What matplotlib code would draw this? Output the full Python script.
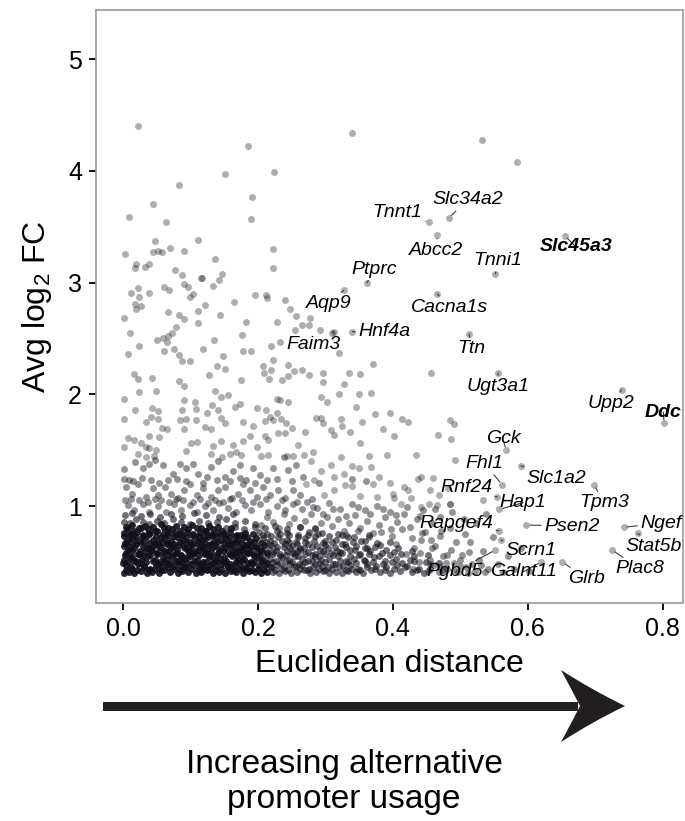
import matplotlib
matplotlib.use("Agg")
import matplotlib.pyplot as plt
from matplotlib.path import Path
from matplotlib.patches import PathPatch, Rectangle

plt.rcParams['font.family'] = ['Liberation Sans', 'DejaVu Sans']
plt.rcParams['mathtext.fontset'] = 'custom'
plt.rcParams['mathtext.rm'] = 'Liberation Sans'

# ---------------- data (Euclidean distance, Avg log2 FC) ----------------
sparse_pts = [
    (0.022,4.40),(0.185,4.22),(0.151,3.97),(0.224,3.99),(0.083,3.87),(0.191,3.77),(0.045,3.70),(0.009,3.59),
    (0.064,3.54),(0.189,3.57),(0.048,3.37),(0.111,3.38),(0.003,3.26),(0.044,3.27),(0.052,3.28),(0.058,3.27),
    (0.070,3.31),(0.090,3.28),(0.223,3.30),(0.136,3.21),(0.019,3.17),(0.018,3.13),(0.032,3.14),(0.038,3.17),
    (0.222,3.13),(0.077,3.11),(0.087,3.07),(0.116,3.04),(0.117,3.04),(0.147,3.08),(0.142,3.02),(0.133,2.97),
    (0.090,2.99),(0.096,2.96),(0.061,2.96),(0.022,2.95),
    (0.340,4.34),(0.532,4.28),(0.584,4.08),
    (0.012,2.91),(0.023,2.87),(0.038,2.91),(0.068,2.93),(0.104,2.90),(0.100,2.87),(0.018,2.81),(0.027,2.79),
    (0.020,2.76),(0.002,2.68),(0.067,2.74),(0.083,2.71),(0.091,2.67),(0.111,2.75),(0.122,2.80),(0.144,2.71),
    (0.111,2.64),(0.165,2.83),(0.196,2.89),(0.212,2.89),(0.213,2.86),(0.240,2.84),(0.247,2.76),(0.256,2.70),
    (0.277,2.68),(0.011,2.55),(0.182,2.65),(0.228,2.65),(0.255,2.58),(0.265,2.62),(0.275,2.62),(0.051,2.49),
    (0.059,2.50),(0.066,2.52),(0.073,2.55),(0.078,2.60),(0.065,2.47),(0.135,2.49),(0.177,2.53),(0.008,2.36),
    (0.023,2.43),(0.061,2.39),(0.075,2.41),(0.083,2.35),(0.088,2.30),(0.100,2.30),(0.118,2.41),(0.148,2.34),
    (0.178,2.39),(0.189,2.39),(0.219,2.43),(0.233,2.47),(0.017,2.18),(0.022,2.14),(0.043,2.15),(0.083,2.12),
    (0.091,2.07),(0.127,2.17),(0.140,2.25),(0.151,2.23),(0.175,2.13),(0.208,2.25),(0.223,2.31),(0.220,2.22),
    (0.209,2.19),(0.217,2.14),(0.236,2.13),(0.244,2.16),(0.245,2.26),(0.253,2.21),(0.266,2.22),(0.275,2.17),
    (0.024,2.02),(0.049,2.03),(0.001,1.96),(0.018,1.86),(0.043,1.88),(0.052,1.85),(0.090,1.95),(0.106,1.93),
    (0.108,1.87),(0.088,1.86),(0.137,2.03),(0.146,1.98),(0.155,1.99),(0.132,1.90),(0.141,1.86),(0.166,1.89),
    (0.173,1.91),(0.199,1.88),(0.212,1.86),(0.218,1.80),(0.229,1.96),(0.232,1.95),(0.244,1.93),(0.228,1.83),
    (0.002,1.78),(0.034,1.75),(0.042,1.80),(0.052,1.78),(0.058,1.70),(0.065,1.69),(0.085,1.77),(0.094,1.78),
    (0.108,1.77),(0.090,1.69),(0.125,1.83),(0.146,1.79),(0.151,1.74),(0.121,1.71),(0.130,1.69),(0.178,1.75),
    (0.193,1.72),(0.210,1.76),(0.222,1.77),(0.234,1.78),(0.241,1.74),(0.250,1.70),(0.270,1.66),(0.007,1.61),
    (0.017,1.59),(0.039,1.63),(0.054,1.62),(0.002,1.53),(0.027,1.56),(0.034,1.53),(0.039,1.52),(0.049,1.50),
    (0.101,1.56),(0.109,1.57),(0.133,1.54),(0.146,1.58),(0.163,1.55),(0.178,1.58),(0.188,1.63),(0.199,1.53),
    (0.210,1.63),(0.215,1.59),(0.230,1.65),(0.240,1.65),(0.260,1.55),(0.281,1.48),(0.022,1.47),(0.034,1.44),
    (0.046,1.45),(0.094,1.49),(0.131,1.47),(0.147,1.44),(0.158,1.47),(0.168,1.48),(0.175,1.46),(0.205,1.45),
    (0.215,1.46),(0.243,1.45),(0.252,1.45),
    (0.292,2.58),(0.310,2.55),(0.320,2.37),(0.297,2.19),(0.335,2.19),(0.352,2.18),(0.371,2.27),(0.457,2.19),
    (0.297,2.11),(0.327,2.09),(0.294,1.98),(0.320,2.00),(0.350,2.00),(0.367,2.01),(0.303,1.93),(0.345,1.89),
    (0.373,1.82),(0.395,1.83),(0.414,1.78),(0.422,1.75),(0.286,1.79),(0.293,1.79),(0.297,1.74),(0.323,1.78),
    (0.325,1.72),(0.337,1.66),(0.308,1.68),(0.313,1.64),(0.354,1.75),(0.386,1.69),(0.402,1.63),(0.467,1.64),
    (0.485,1.77),(0.490,1.73),(0.352,1.56),(0.492,1.41),(0.434,1.46),(0.392,1.46),(0.365,1.45),(0.340,1.36),
    (0.323,1.44),(0.278,1.40),(0.268,1.46),(0.308,1.37),(0.313,1.26),(0.293,1.31),(0.328,1.29),(0.350,1.34),
    (0.367,1.35),(0.380,1.26),(0.395,1.21),(0.417,1.17),(0.423,1.14),(0.437,1.24),(0.442,1.26),(0.459,1.25),
    (0.271,1.20),(0.283,1.23),(0.298,1.10),(0.313,1.14),(0.329,1.19),(0.340,1.18),(0.352,1.09),(0.370,1.20),
    (0.377,1.08),(0.400,1.11),(0.402,1.07),(0.412,1.02),(0.427,1.07),(0.442,0.99),(0.454,1.02),(0.466,1.01),
    (0.484,1.02),(0.486,1.60),(0.455,1.14),(0.469,1.10),(0.481,1.16),(0.485,1.02),(0.533,1.05),
]

mid_pts = [
    (0.002,1.33),(0.009,1.23),(0.018,1.39),(0.029,1.34),(0.039,1.38),(0.047,1.41),(0.059,1.37),(0.066,1.23),
    (0.074,1.29),(0.084,1.38),(0.094,1.34),(0.104,1.38),(0.111,1.29),(0.124,1.26),(0.131,1.35),(0.141,1.40),
    (0.151,1.26),(0.163,1.31),(0.173,1.37),(0.183,1.23),(0.193,1.34),(0.203,1.28),(0.213,1.23),(0.223,1.34),
    (0.238,1.44),(0.245,1.32),(0.257,1.37),(0.267,1.26),
    (0.004,1.17),(0.014,1.11),(0.022,1.20),(0.034,1.08),(0.044,1.16),(0.052,1.10),(0.062,1.17),(0.071,1.11),
    (0.081,1.07),(0.091,1.14),(0.099,1.20),(0.109,1.10),(0.119,1.16),(0.131,1.08),(0.141,1.14),(0.151,1.17),
    (0.161,1.07),(0.171,1.11),(0.178,1.20),(0.188,1.14),(0.198,1.08),(0.208,1.17),(0.218,1.10),(0.230,1.14),
    (0.240,1.07),(0.252,1.14),(0.262,1.10),
    (0.007,1.01),(0.017,0.96),(0.029,1.02),(0.039,0.95),(0.052,1.00),(0.064,0.95),(0.076,1.02),(0.086,0.96),
    (0.099,1.01),(0.109,0.95),(0.121,1.00),(0.133,0.96),(0.143,1.03),(0.156,0.98),(0.168,0.95),(0.181,1.01),
    (0.190,0.96),(0.203,1.02),(0.215,0.95),(0.228,1.00),(0.240,0.96),(0.252,1.02),(0.265,0.97),
    (0.205,0.83),(0.214,0.90),(0.223,0.86),(0.231,0.80),(0.238,0.93),(0.246,0.84),(0.254,0.89),(0.262,0.81),
    (0.270,0.87),(0.279,0.93),(0.285,0.79),(0.293,0.85),(0.302,0.90),(0.310,0.82),(0.318,0.88),(0.327,0.78),
    (0.335,0.85),(0.344,0.92),(0.352,0.80),(0.361,0.87),(0.370,0.76),(0.379,0.83),(0.388,0.90),(0.397,0.79),
    (0.406,0.86),(0.416,0.93),(0.425,0.81),(0.436,0.88),(0.447,0.77),(0.458,0.85),
    (0.272,1.04),(0.287,0.98),(0.305,1.03),(0.322,0.97),(0.340,1.02),(0.358,0.96),(0.377,1.00),(0.395,0.95),
    (0.452,0.42),(0.461,0.47),(0.468,0.41),(0.474,0.55),(0.480,0.44),(0.486,0.61),(0.491,0.49),(0.497,0.41),
    (0.503,0.56),(0.509,0.45),(0.515,0.68),(0.521,0.42),(0.527,0.52),(0.534,0.60),(0.541,0.44),(0.548,0.72),
    (0.556,0.48),(0.563,0.41),(0.571,0.55),(0.580,0.44),(0.590,0.62),(0.602,0.42),(0.455,0.52),(0.463,0.64),
    (0.470,0.73),(0.478,0.49),(0.484,0.80),(0.493,0.68),(0.500,0.46),(0.507,0.75),(0.513,0.59),(0.523,0.85),
    (0.530,0.47),(0.538,0.93),(0.470,0.90),(0.488,0.95),(0.445,0.96),(0.505,0.88),(0.432,0.62),(0.441,0.70),
    (0.438,0.50),(0.430,0.44),
    (0.003,1.05),(0.012,1.06),(0.024,1.05),(0.037,1.04),(0.047,1.06),(0.057,1.05),(0.068,1.04),(0.078,1.06),
    (0.089,1.05),(0.104,1.04),(0.114,1.06),(0.126,1.03),(0.137,1.05),(0.148,1.04),(0.158,1.06),(0.176,1.05),
    (0.193,1.04),(0.212,1.06),(0.235,1.05),(0.258,1.04),(0.280,1.06),
    (0.002,1.24),(0.015,1.22),(0.028,1.25),(0.041,1.23),(0.053,1.21),(0.080,1.24),(0.093,1.22),(0.118,1.21),
    (0.140,1.23),(0.158,1.22),(0.173,1.25),(0.196,1.21),(0.228,1.24),(0.250,1.22),(0.290,1.21),(0.340,1.24),
    (0.360,1.22),
    (0.281,0.99),(0.297,0.93),(0.312,0.97),(0.331,0.91),(0.349,0.99),(0.366,0.93),(0.385,0.97),(0.404,0.92),
    (0.421,0.99),(0.440,0.91),(0.462,0.97),
    (0.330,0.74),(0.348,0.78),(0.364,0.72),(0.382,0.77),(0.399,0.73),(0.414,0.79),(0.428,0.71),(0.443,0.76),
    (0.457,0.70),(0.472,0.78),(0.405,0.66),(0.420,0.57),(0.440,0.58),(0.458,0.62),(0.480,0.56),(0.499,0.52),
    (0.518,0.48),(0.536,0.41),(0.470,0.45),(0.490,0.43),(0.512,0.40),(0.455,0.48),
]

core_mid_pts = [
    (0.222,0.41),(0.231,0.40),(0.240,0.42),(0.249,0.40),(0.258,0.41),(0.268,0.43),(0.277,0.40),(0.286,0.41),
    (0.296,0.42),(0.305,0.40),(0.315,0.41),(0.324,0.40),(0.334,0.42),(0.345,0.41),(0.356,0.40),(0.368,0.43),
    (0.381,0.41),(0.395,0.40),(0.410,0.42),(0.428,0.41),(0.446,0.40),
    (0.228,0.47),(0.238,0.45),(0.247,0.48),(0.257,0.46),(0.266,0.47),(0.276,0.44),(0.285,0.48),(0.295,0.46),
    (0.304,0.45),(0.314,0.48),(0.326,0.46),(0.337,0.47),(0.349,0.44),(0.362,0.48),(0.375,0.46),(0.390,0.45),
    (0.406,0.47),(0.421,0.46),(0.438,0.44),
    (0.218,0.53),(0.227,0.51),(0.236,0.54),(0.246,0.52),(0.255,0.55),(0.265,0.53),(0.274,0.51),(0.284,0.54),
    (0.294,0.52),(0.306,0.53),(0.318,0.55),(0.330,0.51),(0.343,0.53),(0.357,0.52),(0.372,0.54),(0.388,0.51),
    (0.404,0.53),(0.425,0.52),
    (0.223,0.59),(0.233,0.57),(0.243,0.60),(0.253,0.58),(0.263,0.61),(0.274,0.59),(0.285,0.57),(0.297,0.60),
    (0.309,0.58),(0.322,0.59),(0.336,0.61),(0.351,0.57),(0.366,0.60),(0.384,0.58),(0.402,0.59),
    (0.219,0.65),(0.229,0.63),(0.240,0.66),(0.251,0.64),(0.262,0.62),(0.274,0.66),(0.287,0.64),(0.300,0.65),
    (0.314,0.63),(0.329,0.66),(0.345,0.64),(0.362,0.62),(0.381,0.65),
    (0.207,0.71),(0.218,0.69),(0.230,0.72),(0.243,0.70),(0.256,0.68),(0.270,0.71),(0.284,0.73),(0.299,0.69),
    (0.316,0.70),(0.334,0.72),(0.353,0.69),
    (0.202,0.77),(0.214,0.75),(0.228,0.78),(0.243,0.76),(0.259,0.74),(0.276,0.77),(0.295,0.76),(0.318,0.75),
    (0.001,0.86),(0.010,0.85),(0.019,0.88),(0.029,0.86),(0.038,0.84),(0.050,0.87),(0.061,0.85),(0.074,0.88),
    (0.086,0.86),(0.099,0.84),(0.112,0.87),(0.126,0.85),(0.139,0.86),(0.152,0.88),(0.166,0.85),(0.181,0.87),
    (0.196,0.84),
    (0.003,0.92),(0.014,0.94),(0.026,0.91),(0.040,0.93),(0.055,0.90),(0.071,0.93),(0.088,0.91),(0.105,0.94),
    (0.123,0.92),(0.142,0.90),(0.163,0.93),
    (0.226,0.43),(0.236,0.44),(0.245,0.43),(0.254,0.45),(0.263,0.44),(0.273,0.43),(0.282,0.45),(0.291,0.44),
    (0.300,0.43),(0.310,0.44),(0.320,0.45),(0.330,0.43),(0.340,0.44),(0.351,0.43),(0.362,0.45),(0.374,0.44),
    (0.388,0.43),(0.402,0.44),(0.418,0.45),(0.436,0.43),(0.455,0.44),(0.475,0.43),
    (0.222,0.50),(0.232,0.49),(0.242,0.51),(0.251,0.50),(0.261,0.48),(0.270,0.50),(0.280,0.51),(0.290,0.49),
    (0.300,0.50),(0.311,0.48),(0.322,0.51),(0.333,0.50),(0.345,0.49),(0.358,0.51),(0.371,0.50),(0.385,0.48),
    (0.399,0.50),(0.414,0.49),(0.431,0.51),(0.449,0.50),(0.468,0.49),
    (0.213,0.56),(0.223,0.57),(0.232,0.55),(0.242,0.56),(0.251,0.58),(0.260,0.55),(0.270,0.57),(0.280,0.56),
    (0.290,0.55),(0.300,0.57),(0.312,0.56),(0.324,0.58),(0.337,0.55),(0.350,0.56),(0.364,0.57),(0.379,0.55),
    (0.395,0.56),(0.412,0.57),(0.432,0.55),(0.452,0.56),
    (0.216,0.62),(0.227,0.61),(0.238,0.63),(0.248,0.62),(0.258,0.60),(0.269,0.62),(0.280,0.63),(0.292,0.61),
    (0.304,0.62),(0.317,0.60),(0.330,0.63),(0.344,0.61),(0.358,0.62),(0.373,0.63),(0.390,0.61),(0.408,0.62),
    (0.428,0.60),
    (0.212,0.68),(0.224,0.67),(0.235,0.69),(0.246,0.68),(0.258,0.66),(0.270,0.68),(0.283,0.69),(0.296,0.67),
    (0.310,0.68),(0.325,0.66),(0.341,0.68),(0.358,0.69),(0.376,0.67),(0.396,0.68),
    (0.208,0.74),(0.220,0.73),(0.233,0.75),(0.246,0.74),(0.260,0.72),(0.274,0.74),(0.289,0.75),(0.306,0.73),
    (0.324,0.74),(0.343,0.72),(0.365,0.74),
    (0.152,0.80),(0.166,0.81),(0.180,0.79),(0.195,0.81),(0.210,0.80),(0.226,0.82),(0.243,0.79),(0.262,0.81),
    (0.284,0.80),
]

core_dark_pts = [
    (0.001,0.40),(0.009,0.41),(0.016,0.40),(0.027,0.42),(0.035,0.40),(0.043,0.41),(0.054,0.40),(0.061,0.43),
    (0.070,0.41),(0.081,0.40),(0.088,0.42),(0.097,0.41),(0.108,0.40),(0.115,0.41),(0.124,0.43),(0.133,0.40),
    (0.142,0.41),(0.151,0.40),(0.160,0.42),(0.168,0.41),(0.178,0.40),(0.187,0.42),(0.196,0.41),(0.205,0.40),
    (0.214,0.41),
    (0.004,0.47),(0.012,0.45),(0.022,0.48),(0.031,0.46),(0.040,0.44),(0.049,0.47),(0.058,0.45),(0.066,0.48),
    (0.076,0.46),(0.084,0.47),(0.093,0.45),(0.103,0.48),(0.111,0.46),(0.120,0.44),(0.129,0.47),(0.138,0.46),
    (0.147,0.48),(0.156,0.45),(0.164,0.47),(0.173,0.46),(0.183,0.44),(0.191,0.48),(0.201,0.46),(0.210,0.47),
    (0.220,0.45),
    (0.002,0.52),(0.010,0.54),(0.019,0.51),(0.028,0.53),(0.037,0.55),(0.047,0.52),(0.055,0.50),(0.064,0.53),
    (0.073,0.54),(0.082,0.51),(0.091,0.53),(0.100,0.55),(0.109,0.52),(0.118,0.50),(0.127,0.54),(0.136,0.52),
    (0.144,0.53),(0.153,0.51),(0.162,0.55),(0.171,0.52),(0.180,0.53),(0.189,0.50),(0.198,0.54),(0.207,0.52),
    (0.005,0.58),(0.014,0.60),(0.024,0.57),(0.032,0.59),(0.041,0.61),(0.050,0.57),(0.060,0.59),(0.068,0.60),
    (0.078,0.58),(0.086,0.56),(0.096,0.60),(0.105,0.58),(0.113,0.61),(0.122,0.57),(0.131,0.59),(0.141,0.58),
    (0.149,0.60),(0.158,0.57),(0.167,0.59),(0.176,0.61),(0.185,0.58),(0.194,0.57),(0.203,0.60),(0.213,0.58),
    (0.001,0.64),(0.011,0.63),(0.020,0.66),(0.029,0.64),(0.038,0.62),(0.046,0.65),(0.057,0.63),(0.065,0.66),
    (0.074,0.64),(0.083,0.65),(0.092,0.62),(0.101,0.64),(0.110,0.66),(0.119,0.63),(0.128,0.65),(0.137,0.64),
    (0.146,0.62),(0.155,0.66),(0.163,0.64),(0.172,0.63),(0.182,0.65),(0.190,0.64),(0.199,0.62),(0.209,0.65),
    (0.006,0.70),(0.015,0.71),(0.025,0.69),(0.034,0.72),(0.044,0.70),(0.052,0.68),(0.062,0.71),(0.071,0.69),
    (0.080,0.72),(0.089,0.70),(0.099,0.68),(0.107,0.71),(0.117,0.70),(0.126,0.72),(0.135,0.69),(0.145,0.70),
    (0.152,0.71),(0.161,0.68),(0.170,0.70),(0.179,0.72),(0.188,0.69),(0.197,0.71),
    (0.002,0.76),(0.012,0.75),(0.021,0.77),(0.030,0.74),(0.039,0.76),(0.048,0.78),(0.059,0.75),(0.067,0.77),
    (0.077,0.76),(0.087,0.74),(0.095,0.77),(0.104,0.75),(0.114,0.76),(0.123,0.78),(0.132,0.74),(0.140,0.76),
    (0.150,0.75),(0.159,0.77),(0.169,0.74),(0.181,0.76),(0.193,0.75),
    (0.004,0.81),(0.013,0.83),(0.023,0.80),(0.033,0.82),(0.045,0.81),(0.056,0.84),(0.066,0.80),(0.079,0.82),
    (0.091,0.81),(0.103,0.83),(0.116,0.80),(0.128,0.82),(0.141,0.81),
    (0.005,0.43),(0.013,0.44),(0.021,0.43),(0.031,0.45),(0.039,0.43),(0.048,0.44),(0.057,0.43),(0.066,0.45),
    (0.075,0.44),(0.085,0.43),(0.092,0.45),(0.102,0.44),(0.112,0.43),(0.120,0.45),(0.128,0.44),(0.137,0.43),
    (0.146,0.44),(0.155,0.45),(0.164,0.43),(0.173,0.44),(0.182,0.45),(0.191,0.43),(0.200,0.44),(0.209,0.43),
    (0.000,0.49),(0.008,0.50),(0.017,0.51),(0.025,0.49),(0.034,0.50),(0.044,0.51),(0.052,0.48),(0.061,0.50),
    (0.069,0.49),(0.079,0.51),(0.087,0.50),(0.096,0.49),(0.105,0.51),(0.114,0.48),(0.123,0.50),(0.132,0.49),
    (0.140,0.51),(0.150,0.50),(0.158,0.48),(0.167,0.50),(0.176,0.51),(0.186,0.49),(0.194,0.50),(0.204,0.51),
    (0.213,0.49),
    (0.003,0.56),(0.013,0.54),(0.022,0.57),(0.030,0.55),(0.040,0.56),(0.050,0.58),(0.059,0.54),(0.068,0.56),
    (0.077,0.57),(0.086,0.55),(0.095,0.54),(0.104,0.57),(0.113,0.56),(0.122,0.58),(0.131,0.55),(0.140,0.56),
    (0.149,0.54),(0.158,0.57),(0.167,0.55),(0.176,0.56),(0.185,0.58),(0.194,0.55),(0.203,0.56),
    (0.007,0.61),(0.016,0.62),(0.025,0.60),(0.035,0.62),(0.043,0.61),(0.053,0.63),(0.062,0.60),(0.071,0.62),
    (0.080,0.61),(0.090,0.63),(0.098,0.61),(0.107,0.60),(0.116,0.62),(0.125,0.61),(0.134,0.63),(0.143,0.60),
    (0.152,0.62),(0.161,0.61),(0.170,0.60),(0.179,0.62),(0.188,0.61),(0.197,0.63),(0.206,0.61),
    (0.003,0.67),(0.011,0.68),(0.020,0.66),(0.030,0.68),(0.039,0.67),(0.048,0.66),(0.058,0.68),(0.066,0.67),
    (0.076,0.66),(0.085,0.68),(0.094,0.67),(0.103,0.66),(0.112,0.68),(0.121,0.67),(0.131,0.66),(0.140,0.68),
    (0.149,0.67),(0.158,0.66),(0.167,0.68),(0.176,0.67),(0.185,0.66),(0.194,0.68),(0.204,0.67),
    (0.001,0.73),(0.010,0.74),(0.020,0.72),(0.029,0.73),(0.039,0.75),(0.049,0.73),(0.057,0.72),(0.067,0.74),
    (0.076,0.73),(0.085,0.75),(0.094,0.72),(0.103,0.74),(0.112,0.73),(0.121,0.72),(0.130,0.74),(0.140,0.73),
    (0.148,0.75),(0.157,0.72),(0.166,0.73),(0.175,0.74),(0.184,0.72),
    (0.008,0.79),(0.017,0.78),(0.027,0.80),(0.037,0.79),(0.050,0.78),(0.061,0.80),(0.072,0.79),(0.084,0.78),
    (0.097,0.79),(0.109,0.80),(0.121,0.78),(0.134,0.79),(0.147,0.78),(0.160,0.80),
]

# labelled genes: name, point (x, y), label position (x, y)
label_genes = ['Tnnt1','Slc34a2','Abcc2','Tnni1','Slc45a3','Ptprc','Aqp9','Cacna1s','Faim3','Hnf4a',
               'Ttn','Ugt3a1','Upp2','Ddc','Gck','Fhl1','Slc1a2','Rnf24','Hap1','Tpm3','Rapgef4',
               'Psen2','Ngef','Stat5b','Scrn1','Pgbd5','Galnt11','Glrb','Plac8']
label_px = [0.453,0.483,0.466,0.552,0.655,0.362,0.327,0.466,0.313,0.340,
            0.513,0.556,0.739,0.802,0.568,0.562,0.590,0.555,0.558,0.698,0.557,
            0.598,0.742,0.763,0.560,0.552,0.620,0.651,0.725]
label_py = [3.54,3.58,3.425,3.076,3.42,3.00,2.93,2.897,2.56,2.56,
            2.54,2.19,2.04,1.74,1.50,1.19,1.36,1.08,0.97,1.19,0.78,
            0.83,0.81,0.755,0.696,0.606,0.50,0.50,0.606]
label_tx = [0.407,0.511,0.464,0.556,0.671,0.372,0.305,0.484,0.283,0.387,
            0.516,0.556,0.723,0.801,0.563,0.536,0.642,0.509,0.593,0.713,0.494,
            0.665,0.797,0.786,0.605,0.491,0.593,0.687,0.766]
label_ty = [3.63,3.74,3.29,3.195,3.32,3.12,2.81,2.78,2.45,2.56,
            2.41,2.07,1.92,1.84,1.60,1.38,1.25,1.17,1.03,1.03,0.845,
            0.82,0.845,0.64,0.60,0.41,0.41,0.35,0.44]
bold_genes = ['Slc45a3', 'Ddc']

x_ticks = [0.0, 0.2, 0.4, 0.6, 0.8]
y_ticks = [1, 2, 3, 4, 5]

# ---------------- figure ----------------
W, H = 685, 821
fig = plt.figure(figsize=(W / 100, H / 100), dpi=100)
ax = fig.add_axes([96 / W, 1 - 603 / H, (683 - 96) / W, (603 - 10) / H])

pt_color = '#120f1a'
pt_size = 25
def scat(pts, alpha):
    xs = [p[0] for p in pts]
    ys = [p[1] for p in pts]
    ax.scatter(xs, ys, s=pt_size, c=pt_color, alpha=alpha, linewidths=0, zorder=2)

scat(core_dark_pts, 0.9)
scat(core_mid_pts, 0.6)
scat(mid_pts, 0.45)
scat(sparse_pts, 0.34)
ax.scatter(label_px, label_py, s=pt_size, c=pt_color, alpha=0.34, linewidths=0, zorder=2)

for g, px, py, tx, ty in zip(label_genes, label_px, label_py, label_tx, label_ty):
    ax.annotate(g, xy=(px, py), xytext=(tx, ty), textcoords='data',
                ha='center', va='center', fontsize=14, style='italic',
                fontweight='bold' if g in bold_genes else 'normal', color='black',
                arrowprops=dict(arrowstyle='-', color='#3c3c3c', lw=0.8,
                                shrinkA=0, shrinkB=2.5), zorder=4)

ax.set_xlim(-0.040, 0.830)
ax.set_ylim(0.132, 5.44)
ax.set_xticks(x_ticks)
ax.set_xticklabels([f'{t:.1f}' for t in x_ticks])
ax.set_yticks(y_ticks)
ax.set_yticklabels([str(t) for t in y_ticks])
ax.tick_params(axis='both', direction='out', length=5, width=1.3, color='black',
               labelsize=18, pad=5, labelcolor='black')
for sp in ax.spines.values():
    sp.set_color('#9a9a9a')
    sp.set_linewidth(1.2)

ax.set_xlabel('Euclidean distance', fontsize=23, labelpad=6)
ax.set_ylabel(r'Avg log$_{\mathregular{2}}$ FC', fontsize=23, labelpad=10)

# ---------------- arrow and caption below ----------------
def fxy(x, y):
    return (x / W, 1 - y / H)

shaft = Rectangle(fxy(103, 710.5), (578 - 103) / W, 9 / H, transform=fig.transFigure,
                  facecolor='#231f20', edgecolor='none')
fig.patches.append(shaft)
verts = [fxy(625, 706), fxy(592, 690), fxy(561, 670), fxy(574, 694), fxy(580, 706),
         fxy(574, 718), fxy(561, 742), fxy(592, 722), fxy(625, 706), fxy(625, 706)]
codes = [Path.MOVETO, Path.CURVE3, Path.CURVE3, Path.CURVE3, Path.CURVE3,
         Path.CURVE3, Path.CURVE3, Path.CURVE3, Path.CURVE3, Path.CLOSEPOLY]
head = PathPatch(Path(verts, codes), transform=fig.transFigure, facecolor='#231f20', edgecolor='none')
fig.patches.append(head)

fig.text(344 / W, 1 - 782 / H, 'Increasing alternative\npromoter usage', ha='center', va='center',
         fontsize=24, linespacing=1.15)

fig.savefig('out.png', dpi=100)
